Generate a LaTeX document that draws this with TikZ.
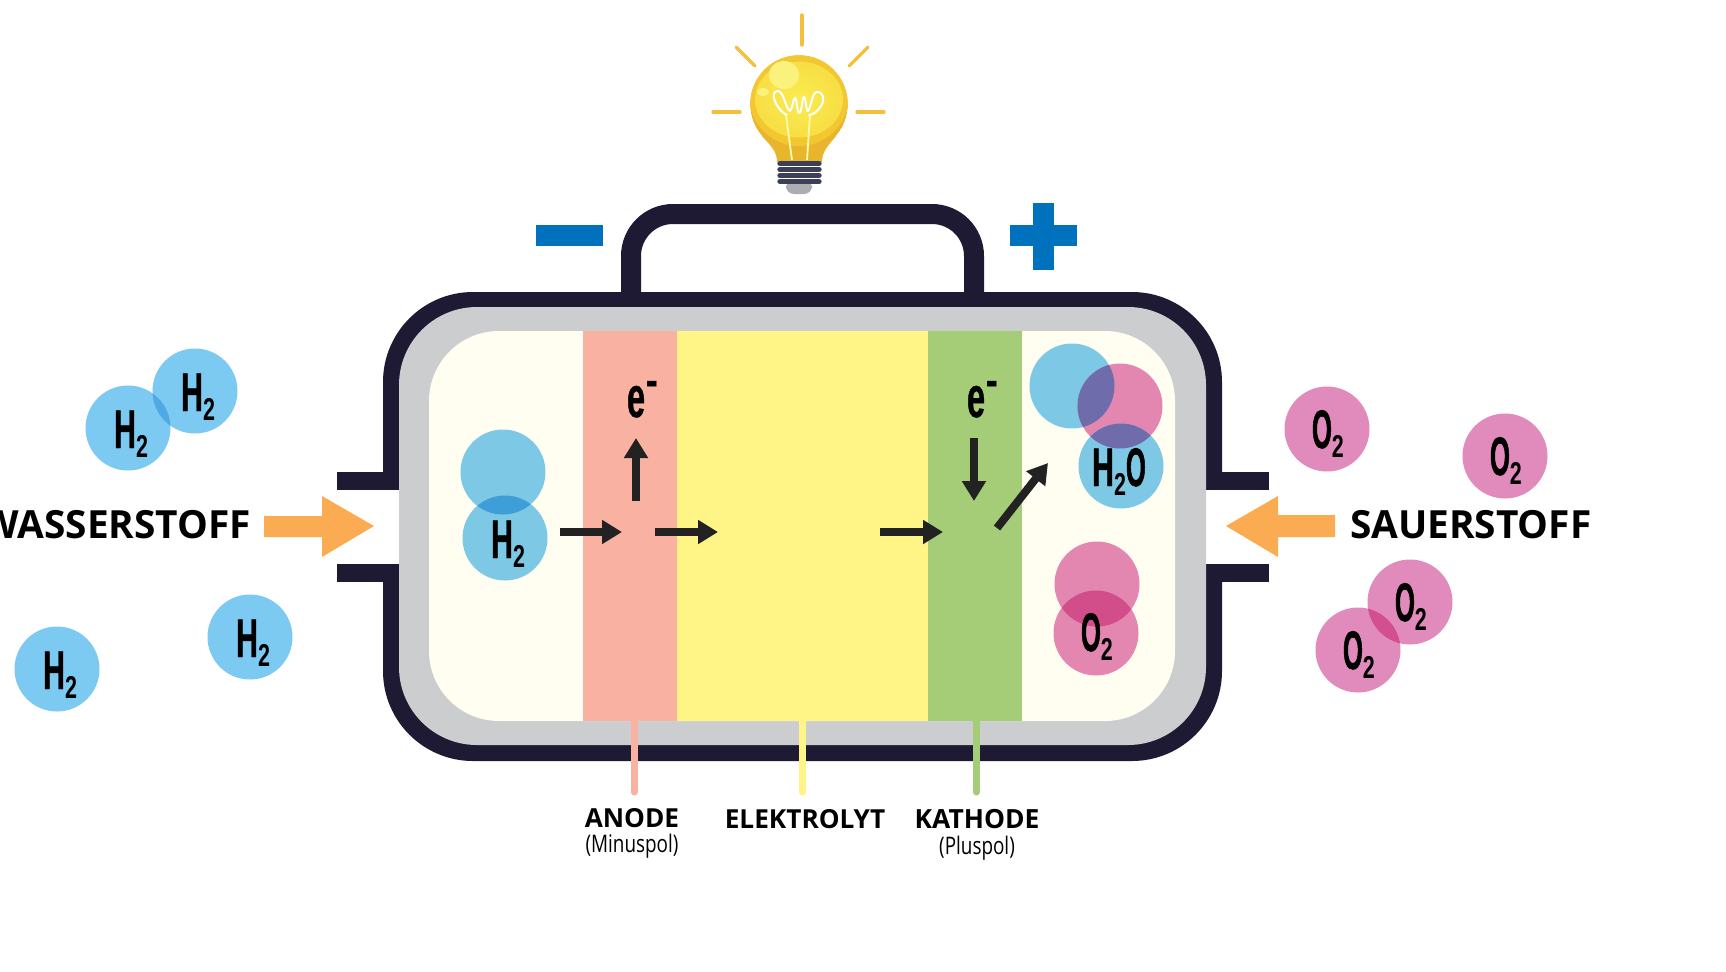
\documentclass[tikz,border=0pt]{standalone}
\usepackage{fontspec}
\setmainfont{Open Sans}
\newfontfamily\molfont[FakeStretch=0.56,BoldFeatures={FakeBold=0.7}]{Liberation Sans}
\newfontfamily\ringfont[FakeStretch=0.47,BoldFeatures={FakeBold=0.9}]{Liberation Sans}
\newfontfamily\subfont[FakeStretch=0.68]{Liberation Sans}
\newfontfamily\polfont[FakeStretch=0.78]{Open Sans}
\usetikzlibrary{arrows.meta,calc}

\definecolor{wall}{HTML}{1E1A33}
\definecolor{shell}{HTML}{CBCDCF}
\definecolor{chamber}{HTML}{FFFEF1}
\definecolor{anodecol}{HTML}{F9B2A2}
\definecolor{elektrocol}{HTML}{FFF486}
\definecolor{kathodecol}{HTML}{A5CD78}
\definecolor{polblue}{HTML}{0071BC}
\definecolor{feed}{HTML}{FBAC53}
\definecolor{pfeil}{HTML}{222222}
\definecolor{hfree}{HTML}{7CC9F1}
\definecolor{hcell}{HTML}{7DC8E4}
\definecolor{ofree}{HTML}{E08BBB}
\definecolor{ocell}{HTML}{E387B0}
\definecolor{hhfree}{HTML}{4FA9E5}
\definecolor{hhcell}{HTML}{3E9FD8}
\definecolor{oofree}{HTML}{D44F8F}
\definecolor{oocell}{HTML}{D24E8B}
\definecolor{hocell}{HTML}{6E6CAA}
\definecolor{ray}{HTML}{F5BE3C}
\definecolor{glassdeep}{HTML}{E9B52C}
\definecolor{glassmid}{HTML}{F3C730}
\definecolor{glasslight}{HTML}{F7DE44}
\definecolor{glasscore}{HTML}{FAEC50}
\definecolor{glint}{HTML}{FBF27E}
\definecolor{thread}{HTML}{3B4058}
\definecolor{lampcap}{HTML}{ABADB2}

\tikzset{
  atom/.style={circle,minimum size=42.5pt,inner sep=0pt,outer sep=0pt,fill=#1},
  moltext/.style={inner sep=0pt,outer sep=0pt,anchor=base west,text=black},
  flow/.style={draw=pfeil,line width=4pt,-{Triangle[length=10pt,width=11.5pt]}},
  leader/.style={line width=3.5pt,line cap=round},
  stub/.style={line width=3.5pt},
  caption/.style={inner sep=0pt,outer sep=0pt,anchor=base,text=black},
  rayline/.style={draw=ray,line width=1.6pt,line cap=round},
}

% formula set in the condensed face: big letter and lowered index
\newcommand{\fml}{{\molfont\bfseries\fontsize{27.2}{27.2}\selectfont H}}
\newcommand{\rng}{{\ringfont\bfseries\fontsize{27.2}{27.2}\selectfont O}}
\newcommand{\idx}{\raisebox{-4.8pt}{\subfont\bfseries\fontsize{15.8}{15.8}\selectfont 2}}
\newcommand{\elec}{{\molfont\bfseries\fontsize{29}{29}\selectfont e}\hspace{0.8pt}\raisebox{10.5pt}{\polfont\bfseries\fontsize{23}{23}\selectfont -}}
% overlap of two atoms, tinted
\newcommand{\lens}[3]{\begin{scope}\clip (#1.center) circle[radius=42.5];\fill[#3] (#2.center) circle[radius=42.5];\end{scope}}

\begin{document}
\begin{tikzpicture}[x=0.5pt,y=-0.5pt]
\useasboundingbox (0,0) rectangle (1726,971);
\clip (0,0) rectangle (1726,971);
\fill[white] (0,0) rectangle (1726,971);

% outer wire between the poles
\draw[wall,line width=10pt,rounded corners=21pt] (631,300) -- (631,214) -- (974,214) -- (974,300);

% housing: wall, shell, chamber
\fill[wall] (383,292) [rounded corners=45pt] -- (383,761) -- (1222,761) -- (1222,292) -- cycle;
\fill[wall] (337,472) rectangle (399,490);
\fill[wall] (337,564) rectangle (399,582);
\fill[wall] (1206,472) rectangle (1269,490);
\fill[wall] (1206,564) rectangle (1269,582);
\fill[white] (375,490) rectangle (399,564);
\fill[white] (1206,490) rectangle (1230,564);
\fill[shell,rounded corners=39pt] (399,307) -- (399,745) -- (1206,745) -- (1206,307) -- cycle;
\fill[chamber,rounded corners=35pt] (429,331) -- (429,721) -- (1175,721) -- (1175,331) -- cycle;
\fill[anodecol] (583,331) rectangle (677,721);
\fill[elektrocol] (677,331) rectangle (928,721);
\fill[kathodecol] (928,331) rectangle (1022,721);

% leader stems under the layers
\coordinate (anodeTop) at (634,720);
\coordinate (anodeEnd) at (634,792);
\coordinate (elekTop) at (802,720);
\coordinate (elekEnd) at (802,792);
\coordinate (kathTop) at (976,720);
\coordinate (kathEnd) at (976,792);
\draw[stub,anodecol] (anodeTop) -- ($(anodeTop)+(0,12)$);
\draw[stub,elektrocol] (elekTop) -- ($(elekTop)+(0,12)$);
\draw[stub,kathodecol] (kathTop) -- ($(kathTop)+(0,12)$);
\draw[leader,anodecol] ($(anodeTop)+(0,8)$) -- (anodeEnd);
\draw[leader,elektrocol] ($(elekTop)+(0,8)$) -- (elekEnd);
\draw[leader,kathodecol] ($(kathTop)+(0,8)$) -- (kathEnd);
\node[caption] (anodeName) at (632,827) {\fontsize{13.1}{13.1}\selectfont\bfseries ANODE};
\node[caption] (anodePol) at (632,852) {\polfont\fontsize{12.1}{12.1}\selectfont (Minuspol)};
\node[caption] (elekName) at (805,828) {\fontsize{13.1}{13.1}\selectfont\bfseries ELEKTROLYT};
\node[caption] (kathName) at (977,828) {\fontsize{13.2}{13.2}\selectfont\bfseries KATHODE};
\node[caption] (kathPol) at (977,854) {\polfont\fontsize{12.1}{12.1}\selectfont (Pluspol)};

% pole signs
\fill[polblue] (536,225) rectangle (603,246);
\fill[polblue] (1010,225) rectangle (1077,246);
\fill[polblue] (1033,203) rectangle (1054,270);

% feed arrows and gas names
\fill[feed] (264,516) -- (322,516) -- (322,496) -- (374,526) -- (322,557) -- (322,537) -- (264,537) -- cycle;
\fill[feed] (1335,515) -- (1278,515) -- (1278,496) -- (1226,526) -- (1278,557) -- (1278,537) -- (1335,537) -- cycle;
\node[inner sep=0pt,outer sep=0pt,anchor=base east] (h2name) at (251,538) {\fontsize{19.4}{19.4}\selectfont\bfseries WASSERSTOFF};
\node[inner sep=0pt,outer sep=0pt,anchor=base west] (o2name) at (1350,538) {\fontsize{19.4}{19.4}\selectfont\bfseries SAUERSTOFF};

% free hydrogen atoms
\node[atom=hfree] (ha) at (128,428) {};
\node[atom=hfree] (hb) at (195,391) {};
\node[atom=hfree] (hc) at (250,637) {};
\node[atom=hfree] (hd) at (57,669) {};
\lens{ha}{hb}{hhfree}
\node[moltext] (hat) at ($(ha.center)+(-14,20)$) {\fml\idx};
\node[moltext] (hbt) at ($(hb.center)+(-14,20)$) {\fml\idx};
\node[moltext] (hct) at ($(hc.center)+(-14,20)$) {\fml\idx};
\node[moltext] (hdt) at ($(hd.center)+(-14,20)$) {\fml\idx};

% free oxygen atoms
\node[atom=ofree] (oa) at (1327,429) {};
\node[atom=ofree] (ob) at (1505,456) {};
\node[atom=ofree] (oc) at (1410,602) {};
\node[atom=ofree] (od) at (1358,650) {};
\lens{oc}{od}{oofree}
\node[moltext] (oat) at ($(oa.center)+(-15,19)$) {\rng\idx};
\node[moltext] (obt) at ($(ob.center)+(-15,19)$) {\rng\idx};
\node[moltext] (oct) at ($(oc.center)+(-15,19)$) {\rng\idx};
\node[moltext] (odt) at ($(od.center)+(-15,19)$) {\rng\idx};

% hydrogen molecule on the anode side
\node[atom=hcell] (hu) at (503,472) {};
\node[atom=hcell] (hv) at (505,538) {};
\lens{hu}{hv}{hhcell}
\node[moltext] (hvt) at ($(hv.center)+(-14,20)$) {\fml\idx};

% water and oxygen on the cathode side
\node[atom=hcell] (wa) at (1072,386) {};
\node[atom=ocell] (wb) at (1120,406) {};
\node[atom=hcell] (wc) at (1121,466) {};
\lens{wa}{wb}{hocell}
\lens{wb}{wc}{hocell}
\node[moltext] (wct) at ($(wc.center)+(-29,20)$) {\fml\idx\rng};
\node[atom=ocell] (ou) at (1097,584) {};
\node[atom=ocell] (ov) at (1096,633) {};
\lens{ou}{ov}{oocell}
\node[moltext] (ovt) at ($(ov.center)+(-15,18)$) {\rng\idx};

% electron labels
\node[moltext] (ea) at (627,417) {\elec};
\node[moltext] (ek) at (967,417) {\elec};

% charge flow arrows
\coordinate (f1a) at (560,532);  \coordinate (f1b) at (622,532);
\coordinate (f2a) at (655,532);  \coordinate (f2b) at (718,532);
\coordinate (f3a) at (880,532);  \coordinate (f3b) at (943,532);
\coordinate (f4a) at (636,501);  \coordinate (f4b) at (636,438);
\coordinate (f5a) at (974,438);  \coordinate (f5b) at (974,501);
\coordinate (f6a) at (997,528);  \coordinate (f6b) at (1048,463);
\draw[flow] (f1a) -- (f1b);
\draw[flow] (f2a) -- (f2b);
\draw[flow] (f3a) -- (f3b);
\draw[flow] (f4a) -- (f4b);
\draw[flow] (f5a) -- (f5b);
\draw[flow] (f6a) -- (f6b);

% light bulb rays
\draw[rayline] (802,15) -- (802,45);
\draw[rayline] (736,47) -- (755,66);
\draw[rayline] (868,47) -- (849,66);
\draw[rayline] (713,112) -- (740,112);
\draw[rayline] (857,112) -- (884,112);

% lamp cap
\fill[lampcap,rounded corners=4pt] (786,180) -- (786,194) -- (812,194) -- (812,180) -- cycle;
% glass: sphere and neck, with lighter inner zones
\fill[glassdeep] (799,104) circle[radius=48.7];
\fill[glassdeep]
  (777,162) .. controls (777,152) and (772,147) .. (762,136)
  -- (836,136) .. controls (827,147) and (822,152) .. (822,162) -- cycle;
\begin{scope}
  \clip (799,104) circle[radius=48.7];
  \fill[glassmid] (799,96) circle[radius=50];
\end{scope}
\shade[inner color=glasscore,outer color=glasslight] (799,99.5) ellipse[x radius=44,y radius=38];
\fill[glint] (784,75) ellipse[x radius=15,y radius=14];
\fill[glint] (763,92) ellipse[x radius=6,y radius=4];
% filament and leads
\draw[white,line width=1pt,line join=round,line cap=round]
  (787,115) .. controls (777,111) and (769,92) .. (777,91)
  .. controls (784,90) and (785,108) .. (790,111)
  .. controls (793,108) and (793,98) .. (795,98)
  .. controls (797,98) and (797,113) .. (799,113)
  .. controls (802,113) and (802,97) .. (804,97)
  .. controls (806,97) and (806,112) .. (808,111)
  .. controls (811,108) and (812,92) .. (817,92)
  .. controls (824,92) and (825,100) .. (821,106)
  .. controls (818,111) and (813,115) .. (809,115);
\draw[white!70!yellow,line width=0.9pt] (786,115) -- (792,160);
\draw[white!70!yellow,line width=0.9pt] (810,115) -- (807,160);
% screw thread
\foreach \rowy in {163.5,169.5,175.5,181.5}
  \draw[thread,line width=2.7pt,line cap=round] (780,\rowy) -- (819,\rowy);
\end{tikzpicture}
\end{document}
